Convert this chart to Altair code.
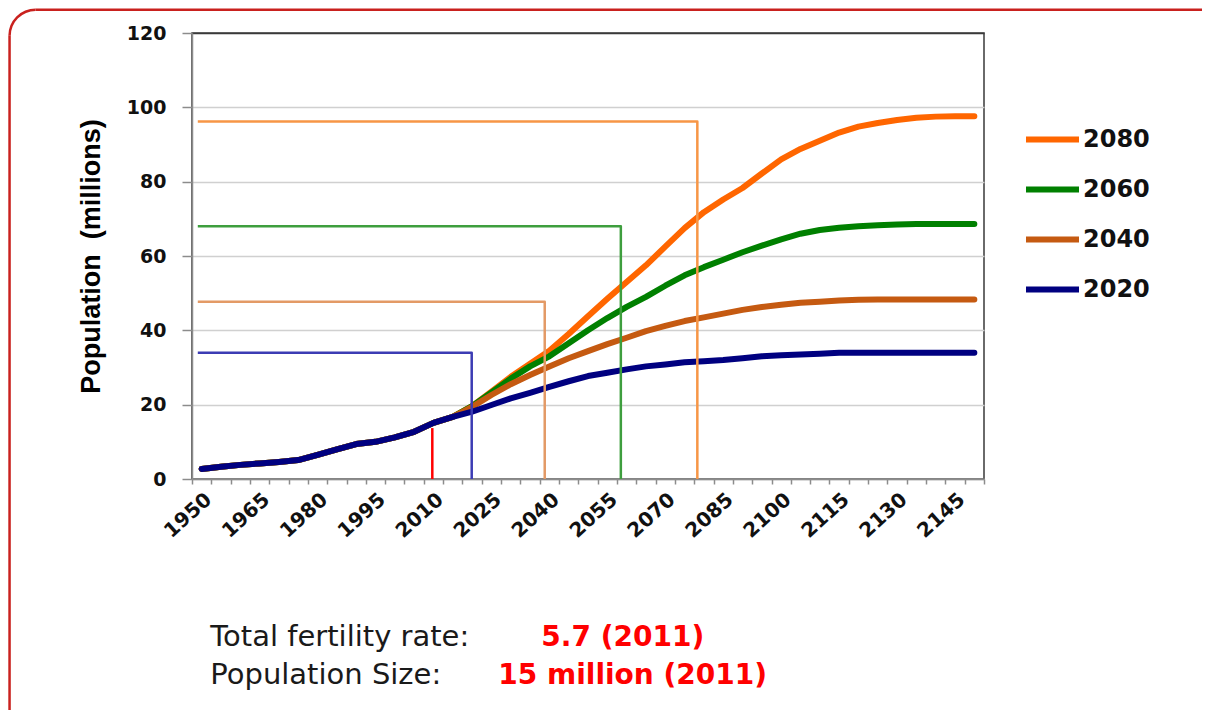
import altair as alt
import pandas as pd

# ---------------- data ----------------
years = list(range(1950, 2151, 5))               # 41 five-year categories
history_years = years[:14]                        # 1950 .. 2015 (shared part)
history = [2.7, 3.3, 3.8, 4.2, 4.6, 5.1, 6.5, 8.0, 9.4, 10.0, 11.2, 12.7, 15.1, 16.7]
proj_years = years[14:]                           # 2020 .. 2150

proj_2080 = [19.6, 23.5, 27.5, 31.0, 34.5, 39.0, 43.8, 48.5, 53.0, 57.5, 62.5, 67.5, 71.8, 75.2,
             78.3, 82.2, 86.0, 88.8, 91.0, 93.2, 94.8, 95.8, 96.6, 97.2, 97.5, 97.6, 97.6]
proj_2060 = [19.6, 23.3, 27.0, 30.3, 33.0, 36.5, 40.0, 43.3, 46.3, 49.0, 52.0, 54.8, 57.0, 59.0,
             61.0, 62.8, 64.5, 66.0, 67.0, 67.6, 68.0, 68.3, 68.5, 68.6, 68.6, 68.6, 68.6]
proj_2040 = [19.4, 22.6, 25.5, 28.0, 30.3, 32.5, 34.4, 36.3, 38.0, 39.8, 41.2, 42.5, 43.5, 44.5,
             45.5, 46.3, 46.9, 47.4, 47.7, 48.0, 48.2, 48.3, 48.3, 48.3, 48.3, 48.3, 48.3]
proj_2020 = [18.1, 19.9, 21.7, 23.2, 24.8, 26.3, 27.7, 28.6, 29.5, 30.3, 30.8, 31.4, 31.7, 32.0,
             32.5, 33.0, 33.3, 33.5, 33.7, 34.0, 34.0, 34.0, 34.0, 34.0, 34.0, 34.0, 34.0]

series_names = ["2080", "2060", "2040", "2020"]
series_values = [proj_2080, proj_2060, proj_2040, proj_2020]
series_colors = ["#FF6600", "#008000", "#C55A11", "#000080"]

# reference (drop) lines: horizontal level then vertical drop at the year
ref_names = ["2080", "2060", "2040", "2020"]
ref_start_year = 1949
ref_years = [2078.3, 2058.5, 2038.8, 2019.9]
ref_levels = [96.2, 68.0, 47.7, 34.0]
ref_colors = ["#F79646", "#3E9E3E", "#E39A66", "#3C3CB4"]
census_name = "2011"
census_year = 2009.7
census_level = 13.7
census_color = "#FF0000"

y_ticks = [0, 20, 40, 60, 80, 100, 120]
x_label_years = list(range(1950, 2146, 15))

note_labels = ["Total fertility rate:", "Population Size:"]
note_values = ["5.7 (2011)", "15 million (2011)"]

# ---------------- tables ----------------
rows = []
for name, vals in zip(series_names, series_values):
    for yr, v in zip(history_years + proj_years, history + vals):
        rows.append({"series": name, "year": yr, "pop": v})
curves_df = pd.DataFrame(rows)

ref_rows = []
for name, yr, lv in zip(ref_names, ref_years, ref_levels):
    ref_rows.append({"ref": name, "year": ref_start_year, "pop": lv, "step": 0})
    ref_rows.append({"ref": name, "year": yr, "pop": lv, "step": 1})
    ref_rows.append({"ref": name, "year": yr, "pop": 0, "step": 2})
ref_rows.append({"ref": census_name, "year": census_year, "pop": 0, "step": 0})
ref_rows.append({"ref": census_name, "year": census_year, "pop": census_level, "step": 1})
ref_df = pd.DataFrame(ref_rows)

# ---------------- encodings ----------------
band_edges = [years[0] - 2.5 + 5 * i for i in range(len(years) + 1)]
label_set = ",".join(str(v) for v in x_label_years)

x_enc = alt.X(
    "year:Q",
    scale=alt.Scale(domain=[band_edges[0], band_edges[-1]], nice=False, zero=False),
    axis=alt.Axis(
        values=band_edges,
        labelExpr=f"indexof([{label_set}], datum.value + 2.5) >= 0 ? format(datum.value + 2.5, 'd') : ''",
        labelOffset=9.65,
        labelAngle=318,
        labelFont="DejaVu Sans",
        labelFontWeight="bold",
        labelFontSize=20,
        labelColor="#111111",
        labelPadding=5,
        labelOverlap=False,
        labelFlush=False,
        tickSize=5,
        tickColor="#8C8C8C",
        tickWidth=1.5,
        domainColor="#8C8C8C",
        domainWidth=1.5,
        grid=False,
        title=None,
    ),
)

y_enc = alt.Y(
    "pop:Q",
    scale=alt.Scale(domain=[0, 120], nice=False),
    axis=alt.Axis(
        values=y_ticks,
        title="Population\u00a0 (millions)",
        titleFont="Liberation Sans",
        titleFontSize=27,
        titleFontWeight="bold",
        titleColor="#000000",
        titlePadding=21,
        labelFont="DejaVu Sans",
        labelFontWeight="bold",
        labelFontSize=19,
        labelColor="#111111",
        labelPadding=16,
        tickSize=10,
        tickColor="#8C8C8C",
        tickWidth=1.5,
        domainColor="#8C8C8C",
        domainWidth=1.5,
        grid=True,
        gridColor={"condition": {"test": "datum.value == 120", "value": "#3A3A3A"}, "value": "#D0D0D0"},
        gridWidth=1.5,
    ),
)

curves = alt.Chart(curves_df).mark_line(
    strokeWidth=6, strokeCap="round", strokeJoin="round"
).encode(
    x=x_enc,
    y=y_enc,
    color=alt.Color(
        "series:N",
        scale=alt.Scale(domain=series_names, range=series_colors),
        legend=alt.Legend(
            title=None,
            orient="none",
            legendX=831,
            legendY=77,
            symbolType="stroke",
            symbolStrokeWidth=6,
            symbolSize=2809,
            labelFont="DejaVu Sans",
            labelFontWeight="bold",
            labelFontSize=24,
            labelColor="#111111",
            labelOffset=1,
            padding=0,
            rowPadding=8,
        ),
    ),
)

refs = alt.Chart(ref_df).mark_line(strokeWidth=2.5, strokeJoin="round").encode(
    x=x_enc,
    y=y_enc,
    detail="ref:N",
    order="step:O",
    color=alt.Color(
        "ref:N",
        scale=alt.Scale(domain=ref_names + [census_name], range=ref_colors + [census_color]),
        legend=None,
    ),
)

# ---------------- decorative red frame (open to the right/bottom) ----------------
FRAME = "#C9211E"
one = pd.DataFrame({"k": [0]})
frame_left = alt.Chart(one).mark_rule(color=FRAME, strokeWidth=2.5).encode(
    x=alt.value(-182.45), y=alt.value(2.8), y2=alt.value(720)
)
frame_top = alt.Chart(one).mark_rule(color=FRAME, strokeWidth=2.5).encode(
    x=alt.value(-156.45), x2=alt.value(1010), y=alt.value(-23.2)
)
frame_corner = alt.Chart(one).mark_arc(color=FRAME).encode(
    theta=alt.value(4.7124), theta2=alt.value(6.2832),
    radius=alt.value(27.25), radius2=alt.value(24.75),
    x=alt.value(-156.45), y=alt.value(2.8)
)

def note(text, x, y, color, weight, size):
    return alt.Chart(pd.DataFrame({"t": [text]})).mark_text(
        align="left", baseline="alphabetic", font="DejaVu Sans", fontSize=size,
        fontWeight=weight, color=color
    ).encode(text="t:N", x=alt.value(x), y=alt.value(y))

notes = [
    note(note_labels[0], 18.3, 613.3, "#1A1A1A", "normal", 29),
    note(note_values[0], 349.3, 613.3, "#FF0000", "bold", 28),
    note(note_labels[1], 18.3, 651.3, "#1A1A1A", "normal", 29),
    note(note_values[1], 306.3, 651.3, "#FF0000", "bold", 28),
]

chart = alt.layer(frame_left, frame_top, frame_corner, curves, refs, *notes).resolve_scale(
    color="independent"
).properties(
    width=792, height=446, padding=0, background="white"
).configure_view(stroke="#3A3A3A", strokeWidth=1.5)

chart.save("out.html", embed_options={"renderer": "svg", "actions": False})
